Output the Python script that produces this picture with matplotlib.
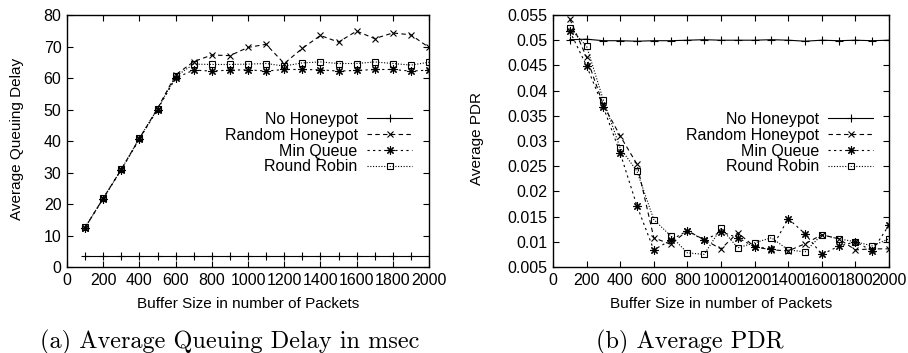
import numpy as np
import matplotlib
matplotlib.use("Agg")
import matplotlib.pyplot as plt

plt.rcParams['font.family'] = ['Liberation Sans', 'DejaVu Sans']

buffer_sizes = [100, 200, 300, 400, 500, 600, 700, 800, 900, 1000,
                1100, 1200, 1300, 1400, 1500, 1600, 1700, 1800, 1900, 2000]

# (a) average queuing delay (msec)
delay_none = [3.5] * 20
delay_random = [12.5, 21.8, 31.0, 40.8, 50.3, 61.0, 65.2, 67.3, 67.1, 69.7,
                70.7, 64.6, 69.4, 73.5, 71.4, 74.9, 72.5, 74.3, 73.7, 69.7]
delay_minq = [12.5, 21.7, 30.9, 40.6, 50.0, 60.0, 62.5, 62.2, 62.5, 62.6,
              62.2, 62.7, 62.7, 62.6, 62.2, 62.4, 62.7, 62.7, 62.2, 62.5]
delay_rr = [12.6, 21.8, 31.0, 40.9, 50.2, 60.5, 64.4, 64.3, 64.3, 64.4,
            64.6, 63.8, 64.8, 65.1, 64.6, 64.6, 65.1, 64.6, 64.1, 65.0]

# (b) average PDR
pdr_none = [0.0501, 0.0502, 0.0499, 0.0499, 0.0498, 0.0499, 0.0499, 0.0500, 0.0501, 0.0500,
            0.0500, 0.0500, 0.0501, 0.0500, 0.0498, 0.0500, 0.0499, 0.0500, 0.0499, 0.0500]
pdr_random = [0.0542, 0.0466, 0.0371, 0.0310, 0.0254, 0.0108, 0.0095, 0.0122, 0.0104, 0.0086,
              0.0118, 0.0090, 0.0084, 0.0082, 0.0096, 0.0114, 0.0106, 0.0084, 0.0086, 0.0086]
pdr_minq = [0.0518, 0.0449, 0.0367, 0.0276, 0.0171, 0.0084, 0.0103, 0.0122, 0.0103, 0.0120,
            0.0108, 0.0090, 0.0086, 0.0146, 0.0116, 0.0075, 0.0091, 0.0100, 0.0082, 0.0133]
pdr_rr = [0.0524, 0.0488, 0.0381, 0.0286, 0.0240, 0.0144, 0.0112, 0.0078, 0.0075, 0.0127,
          0.0088, 0.0098, 0.0108, 0.0084, 0.0080, 0.0114, 0.0106, 0.0100, 0.0092, 0.0106]

labels = ['No Honeypot', 'Random Honeypot', 'Min Queue', 'Round Robin']
styles = [
    dict(ls='-', marker='+', ms=6),
    dict(ls=(0, (4, 3)), marker='x', ms=5),
    dict(ls=(0, (2, 3)), marker=(8, 2, 0), ms=6),
    dict(ls=(0, (1, 1.5)), marker='s', ms=5, mfc='none'),
]

W, H = 908, 353
fig = plt.figure(figsize=(W / 100, H / 100), dpi=100)


def make_axes(l, r, t, b):
    return fig.add_axes([l / W, 1 - b / H, (r - l) / W, (b - t) / H])


def draw(ax, series, yticks, ylabel, ylab_x, fmt):
    for vals, lab, st in zip(series, labels, styles):
        ax.plot(buffer_sizes, vals, color='black', lw=0.8, mew=0.8, label=lab, **st)
    ax.set_xlim(0, 2000)
    ax.set_xticks(np.arange(0, 2001, 200))
    ax.set_ylim(yticks[0], yticks[-1])
    ax.set_yticks(yticks)
    ax.set_yticklabels([fmt(v) for v in yticks])
    ax.tick_params(direction='in', length=4, width=0.8, top=True, right=True,
                   labelsize=11.5, pad=4)
    for s in ax.spines.values():
        s.set_linewidth(1.0)
    ax.set_xlabel('Buffer Size in number of Packets', fontsize=11, va='center')
    ax.xaxis.set_label_coords(0.5, -0.147)
    ax.set_ylabel(ylabel, fontsize=11, va='center')
    ax.yaxis.set_label_coords(ylab_x, 0.51)
    leg = ax.legend(loc='upper right', bbox_to_anchor=(0.953, 0.615), frameon=False,
                    markerfirst=False, fontsize=11.5, handlelength=2.8,
                    handletextpad=0.6, labelspacing=0.05, borderpad=0,
                    borderaxespad=0)
    return leg


ax1 = make_axes(67, 429, 15, 267)
draw(ax1, [delay_none, delay_random, delay_minq, delay_rr],
     np.arange(0, 81, 10), 'Average Queuing Delay', -0.138, lambda v: '%d' % v)

ax2 = make_axes(553, 889, 15, 267)
pdr_ticks = np.round(np.arange(0.005, 0.0551, 0.005), 3)
draw(ax2, [pdr_none, pdr_random, pdr_minq, pdr_rr],
     pdr_ticks, 'Average PDR', -0.226, lambda v: ('%.3f' % v).rstrip('0'))

fig.text(230 / W, 5 / H, '(a) Average Queuing Delay in msec', ha='center',
         va='baseline', fontsize=17.5, family='cmr10')
fig.text(690 / W, 5 / H, '(b) Average PDR', ha='center',
         va='baseline', fontsize=17.5, family='cmr10')

fig.savefig('out.png', dpi=100)
